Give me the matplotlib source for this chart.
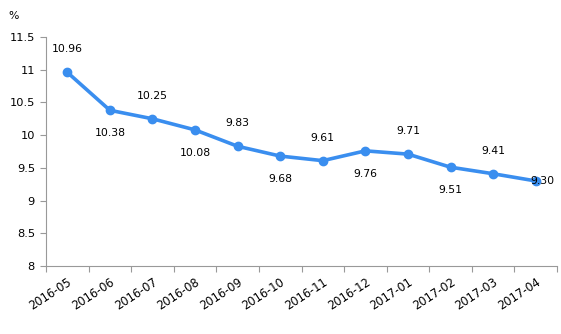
import matplotlib.pyplot as plt
import numpy as np

months = ['2016-05', '2016-06', '2016-07', '2016-08', '2016-09', '2016-10',
          '2016-11', '2016-12', '2017-01', '2017-02', '2017-03', '2017-04']
rates = [10.96, 10.38, 10.25, 10.08, 9.83, 9.68, 9.61, 9.76, 9.71, 9.51, 9.41, 9.30]
# where each value label sits relative to its point
label_pos = ['above', 'below', 'above', 'below', 'above', 'below',
             'above', 'below', 'above', 'below', 'above', 'right']

plt.rcParams['font.family'] = 'DejaVu Sans'
fig = plt.figure(figsize=(5.61, 3.34), dpi=100)
ax = fig.add_axes([46 / 561, 1 - 266 / 334, (557 - 46) / 561, (266 - 37) / 334])

x = np.arange(len(months))
ax.plot(x, rates, '-o', color='#3A8EEF', lw=2.6, ms=6, clip_on=False)

for xi, v, p in zip(x, rates, label_pos):
    if p == 'above':
        ax.annotate(f'{v:.2f}', (xi, v), xytext=(0, 13), textcoords='offset points',
                    ha='center', va='bottom', fontsize=7.8)
    elif p == 'below':
        ax.annotate(f'{v:.2f}', (xi, v), xytext=(0, -13), textcoords='offset points',
                    ha='center', va='top', fontsize=7.8)
    else:
        ax.annotate(f'{v:.2f}', (xi, v), xytext=(-4, 0), textcoords='offset points',
                    ha='left', va='center', fontsize=7.8)

ax.set_xlim(-0.5, len(months) - 0.5)
ax.set_ylim(8, 11.5)
ax.set_yticks(np.arange(8, 11.51, 0.5))
ax.set_yticklabels(['8', '8.5', '9', '9.5', '10', '10.5', '11', '11.5'])

# ticks sit between categories, labels under the category centres
ax.set_xticks(np.arange(-0.5, len(months), 1.0))
ax.set_xticklabels([])
ax.set_xticks(x, minor=True)
ax.set_xticklabels(months, minor=True, rotation=33, ha='right', rotation_mode='anchor')
ax.tick_params(axis='x', which='minor', length=0, pad=7, labelsize=8.3)
ax.tick_params(axis='x', which='major', length=4, color='#999999', direction='out')
ax.tick_params(axis='y', length=4, color='#999999', labelsize=8.2, pad=4)

for s in ['top', 'right']:
    ax.spines[s].set_visible(False)
for s in ['left', 'bottom']:
    ax.spines[s].set_color('#999999')

fig.text(14 / 561, 1 - 16 / 334, '%', fontsize=7.8, ha='center', va='center')

fig.savefig('out.png', dpi=100)
